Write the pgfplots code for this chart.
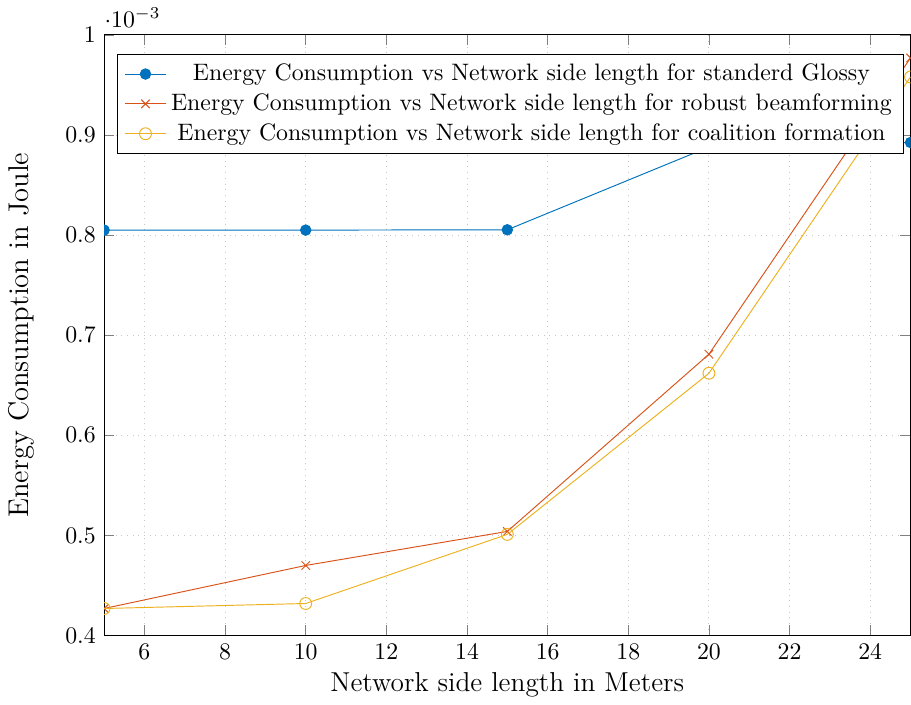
\documentclass[border=0pt]{standalone}
\usepackage{pgfplots}
\pgfplotsset{compat=1.18}
\definecolor{mycolor1}{rgb}{0.00000,0.44700,0.74100}
\definecolor{mycolor2}{rgb}{0.85000,0.32500,0.09800}
\definecolor{mycolor3}{rgb}{0.92900,0.69400,0.12500}
\begin{document}
\begin{tikzpicture}
\begin{axis}[
  width=339pt, height=252.5pt, scale only axis,
  xmin=5, xmax=25, ymin=0.4e-3, ymax=1e-3,
  xtick={6,8,...,24},
  ytick={0.4e-3,0.5e-3,0.6e-3,0.7e-3,0.8e-3,0.9e-3,1e-3},
  scaled y ticks=base 10:3,
  every y tick scale label/.style={at={(rel axis cs:0,1)}, anchor=base west, inner xsep=0pt, yshift=3.2pt},
  xmajorgrids, ymajorgrids,
  grid style={dotted, gray!45},
  xlabel={\fontsize{11.5}{13}\selectfont Network side length in Meters},
  xlabel style={at={(axis description cs:0.5,0)}, anchor=base, yshift=-23.5pt},
  ylabel={\large Energy Consumption in Joule},
  ylabel style={at={(axis description cs:-0.1032,0.5)}, anchor=center},
  clip marker paths=true,
  legend style={at={(0.0161,0.9684)}, anchor=north west, legend cell align=center, draw=black, fill=white, font=\normalsize},
]
\addplot[color=mycolor1, mark=*, mark size=2.2pt, mark options={solid}] coordinates {
(5,0.805e-3) (10,0.805e-3) (15,0.8053e-3) (20,0.888e-3) (25,0.8925e-3)};
\addlegendentry{Energy Consumption vs Network side length for standerd Glossy}
\addplot[color=mycolor2, mark=x, mark size=2.5pt, mark options={solid}] coordinates {
(5,0.427e-3) (10,0.470e-3) (15,0.504e-3) (20,0.681e-3) (25,0.977e-3)};
\addlegendentry{Energy Consumption vs Network side length for robust beamforming}
\addplot[color=mycolor3, mark=o, mark size=2.5pt, mark options={solid}] coordinates {
(5,0.427e-3) (10,0.432e-3) (15,0.501e-3) (20,0.662e-3) (25,0.958e-3)};
\addlegendentry{Energy Consumption vs Network side length for coalition formation}
\end{axis}
\end{tikzpicture}
\end{document}
